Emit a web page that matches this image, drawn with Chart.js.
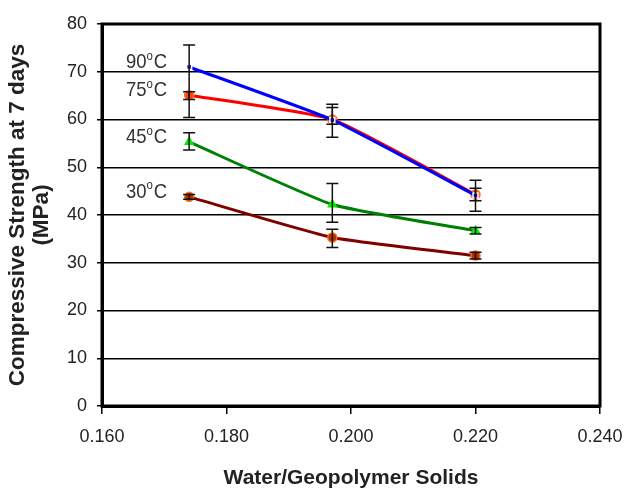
<!DOCTYPE html>
<html>
<head>
<meta charset="utf-8">
<script src="https://cdn.jsdelivr.net/npm/chart.js@4/dist/chart.umd.min.js"></script>
<style>body{margin:0;background:#fff}</style>
</head>
<body>
<canvas id="grafico" width="625" height="492"></canvas>
<script>
// dados
var razoes = [0.174, 0.197, 0.220];
var temperaturas = ["90", "75", "45", "30"];
var resist90 = [71.0, 59.9, 44.1];
var resist75 = [65.1, 60.0, 44.3];
var resist45 = [55.3, 42.2, 36.7];
var resist30 = [43.8, 35.3, 31.5];
var erroMin90 = [60.4, 56.3, 40.8];
var erroMax90 = [75.6, 63.2, 47.3];
var erroMin75 = [64.2, 59.0, 43.0];
var erroMax75 = [65.8, 62.5, 45.6];
var erroMin45 = [53.6, 38.5, 36.0];
var erroMax45 = [57.2, 46.6, 37.4];
var erroMin30 = [43.3, 33.2, 30.8];
var erroMax30 = [44.3, 37.0, 32.2];

const fonte = "'Liberation Sans', Arial, sans-serif";

function pontos(valores) {
  return razoes.map((r, i) => ({ x: r, y: valores[i] }));
}

function serie(temp, valores, cor, estilo, fundo, borda, raio, minimos, maximos) {
  return {
    label: temp,
    data: pontos(valores),
    borderColor: cor,
    backgroundColor: cor,
    borderWidth: 3,
    tension: 0.15,
    pointStyle: estilo,
    pointRadius: raio,
    pointBackgroundColor: fundo,
    pointBorderColor: borda,
    pointBorderWidth: 1.5,
    erroMin: minimos,
    erroMax: maximos,
  };
}

// barras de erro
const barrasErro = {
  id: "barrasErro",
  afterDatasetsDraw(chart) {
    const ctx = chart.ctx;
    const sx = chart.scales.x;
    const sy = chart.scales.y;
    ctx.save();
    ctx.strokeStyle = "#111";
    ctx.lineWidth = 1.5;
    chart.data.datasets.forEach((ds) => {
      ds.data.forEach((p, i) => {
        const x = sx.getPixelForValue(p.x);
        const y1 = sy.getPixelForValue(ds.erroMin[i]);
        const y2 = sy.getPixelForValue(ds.erroMax[i]);
        ctx.beginPath();
        ctx.moveTo(x, y1);
        ctx.lineTo(x, y2);
        ctx.moveTo(x - 6, y1);
        ctx.lineTo(x + 6, y1);
        ctx.moveTo(x - 6, y2);
        ctx.lineTo(x + 6, y2);
        ctx.stroke();
      });
    });
    ctx.restore();
  },
};

// rotulos de temperatura e moldura
const rotulos = {
  id: "rotulos",
  afterDraw(chart) {
    const ctx = chart.ctx;
    const a = chart.chartArea;
    ctx.save();
    ctx.fillStyle = "#333";
    ctx.textBaseline = "middle";
    chart.data.datasets.forEach((ds, k) => {
      const p = chart.getDatasetMeta(k).data[0];
      const xDir = p.x - 22;
      const yc = p.y - 5;
      ctx.save();
      ctx.translate(xDir, yc);
      ctx.scale(0.88, 1);
      ctx.textAlign = "right";
      ctx.font = "21px " + fonte;
      ctx.fillText("C", 0, 0);
      const wC = ctx.measureText("C").width;
      ctx.font = "13px " + fonte;
      ctx.fillText("o", -wC - 1, -6);
      const wO = ctx.measureText("o").width;
      ctx.font = "21px " + fonte;
      ctx.fillText(ds.label, -wC - wO - 1, 0);
      ctx.restore();
    });
    ctx.strokeStyle = "#000";
    ctx.lineWidth = 3;
    ctx.strokeRect(a.left, a.top, a.right - a.left, a.bottom - a.top);
    ctx.restore();
  },
};

new Chart(document.getElementById("grafico"), {
  type: "line",
  data: {
    datasets: [
      serie(temperaturas[0], resist90, "#0000ff", "rect", "#0000ff", "#ffffff", 3.5, erroMin90, erroMax90),
      serie(temperaturas[1], resist75, "#ff0000", "circle", "#ff4500", "#ff7020", 4.5, erroMin75, erroMax75),
      serie(temperaturas[2], resist45, "#008000", "triangle", "#00ee00", "#00ee00", 4.5, erroMin45, erroMax45),
      serie(temperaturas[3], resist30, "#800000", "circle", "#b03000", "#ff6a10", 4.5, erroMin30, erroMax30),
    ],
  },
  options: {
    responsive: false,
    animation: false,
    layout: { padding: { top: 24, right: 25, left: 6, bottom: 1 } },
    plugins: { legend: { display: false }, tooltip: { enabled: false } },
    scales: {
      x: {
        type: "linear",
        min: 0.16,
        max: 0.24,
        ticks: {
          stepSize: 0.02,
          color: "#222",
          font: { family: fonte, size: 18 },
          padding: 12,
          callback: (v) => v.toFixed(3),
        },
        grid: { drawOnChartArea: false, color: "#000", lineWidth: 1.5, tickLength: 8 },
        border: { color: "#000", width: 3 },
        title: {
          display: true,
          text: "Water/Geopolymer Solids",
          color: "#222",
          font: { family: fonte, size: 21, weight: "bold", lineHeight: 1.2 },
          padding: { top: 10, bottom: 0 },
        },
        afterFit: (s) => {
          s.height = 85;
          s.paddingLeft = 0;
          s.paddingRight = 0;
        },
      },
      y: {
        min: 0,
        max: 80,
        ticks: {
          stepSize: 10,
          color: "#222",
          font: { family: fonte, size: 18 },
          padding: 10,
        },
        grid: { color: "#000", lineWidth: 1.5, tickLength: 5 },
        border: { color: "#000", width: 3 },
        title: {
          display: true,
          text: ["Compressive Strength at 7 days", "(MPa)"],
          color: "#222",
          font: { family: fonte, size: 22.5, weight: "bold", lineHeight: 1.05 },
          padding: { top: 0, bottom: 4 },
        },
        afterFit: (s) => { s.width = 96; },
      },
    },
  },
  plugins: [barrasErro, rotulos],
});
</script>
</body>
</html>
